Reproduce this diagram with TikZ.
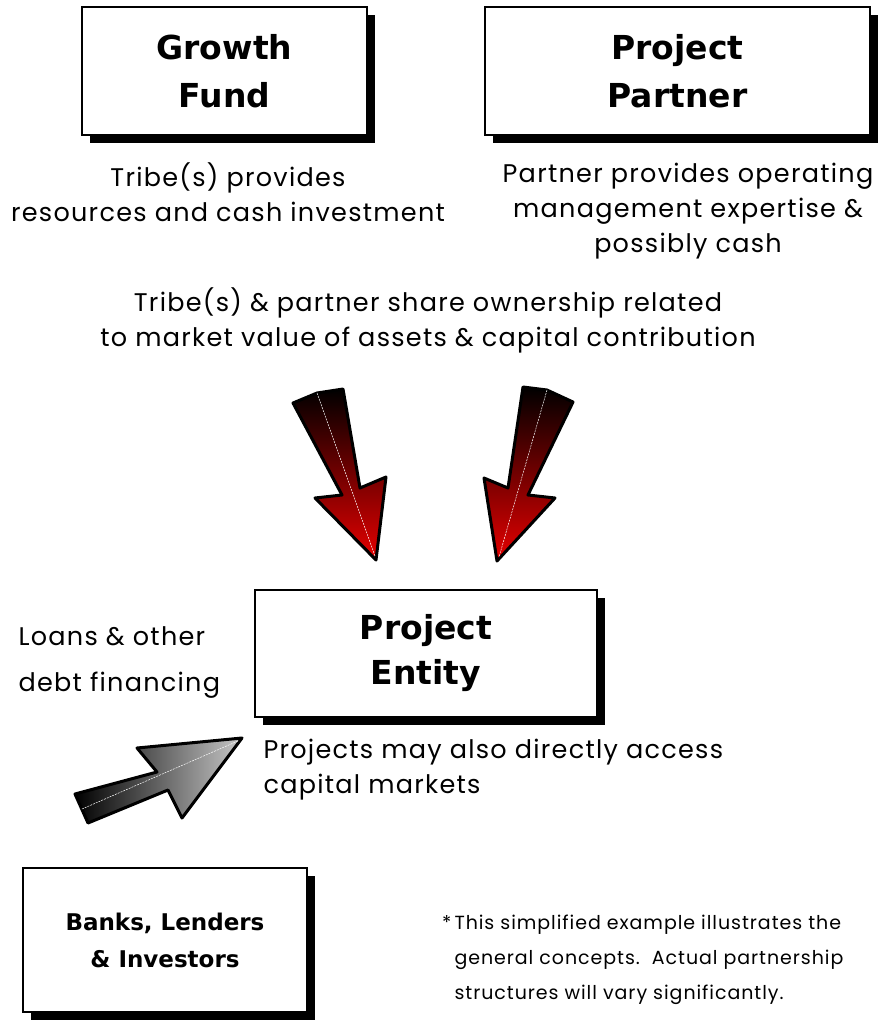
\documentclass[tikz,border=0pt]{standalone}
\usepackage{fontspec}
\setmainfont{Poppins}[LetterSpace=5]
\newfontfamily\titlefont{DejaVu Sans}
\usetikzlibrary{shadows}

\tikzset{
  box/.style={draw=black, line width=2pt, fill=white, align=center,
    drop shadow={shadow xshift=8pt, shadow yshift=-8pt, fill=black, opacity=1},
    font=\titlefont\bfseries\fontsize{33}{48}\selectfont},
  txt/.style={align=center, font=\fontsize{25.5}{35}\selectfont},
  note/.style={align=left, anchor=west, font=\fontsize{19}{35}\selectfont},
  centreline/.style={white, line width=0.5pt, dash pattern=on 2pt off 1pt},
}

\begin{document}
\begin{tikzpicture}[x=1pt, y=-1pt]
			%%%%% START %%%%%
			\useasboundingbox (0,0) rectangle (880,1024);
			
			\node[box, minimum width=285pt, minimum height=128pt] (fund) at (224.5, 71) {Growth\\Fund};
			\node[box, minimum width=385pt, minimum height=128pt] (partner) at (677.5, 71) {Project\\Partner};
			\node[box, minimum width=342pt, minimum height=127pt, font=\titlefont\bfseries\fontsize{33}{45}\selectfont] (entity) at (426, 653.5) {Project\\Entity};
			\node[box, minimum width=284pt, minimum height=144pt, font=\titlefont\bfseries\fontsize{23}{37}\selectfont] (banks) at (165, 940) {Banks, Lenders\\\& Investors};
			
			\node[txt] (fundtxt) at (228, 192) {Tribe(s) provides\\resources and cash investment};
			\node[txt] (partnertxt) at (688, 211) {Partner provides operating\\management expertise \&\\possibly cash};
			\node[txt] (sharetxt) at (428, 320) {Tribe(s) \& partner share ownership related\\to market value of assets \& capital contribution};
			
			\node[txt, align=left, anchor=west, font=\fontsize{25.5}{46}\selectfont] (loantxt) at (15, 662) {Loans \& other\\debt financing};
			\node[txt, align=left, anchor=west] (markettxt) at (260, 770) {Projects may also directly access\\capital markets};
			
			\node[note] (notetxt) at (451, 960) {\llap{*\,}This simplified example illustrates the\\general concepts.~~Actual partnership\\structures will vary significantly.};
			
			% red arrows into the project entity
			\shadedraw[top color=black, bottom color=red!90!black, draw=black, line width=3pt, line join=round]
			  (293,403) -- (317,393) -- (343,389) -- (360,488) -- (386,477) -- (376,560) -- (315,498) -- (342,495) -- cycle;
			\draw[centreline] (317,393) -- (375,556);
			
			\shadedraw[top color=black, bottom color=red!90!black, draw=black, line width=3pt, line join=round]
			  (523,387) -- (547,390) -- (573,402) -- (528,495) -- (555,498) -- (497,561) -- (484,478) -- (508,488) -- cycle;
			\draw[centreline] (547,390) -- (499,557);
			
			% grey arrow from the lenders
			\shadedraw[left color=black, right color=black!22, draw=black, line width=3pt, line join=round]
			  (75,794) -- (157,772) -- (137,748) -- (242,738) -- (182,818) -- (168,790) -- (88,823) -- cycle;
			\draw[centreline] (82,809) -- (238,741);
			
			%%%%% END %%%%%
\end{tikzpicture}
\end{document}
